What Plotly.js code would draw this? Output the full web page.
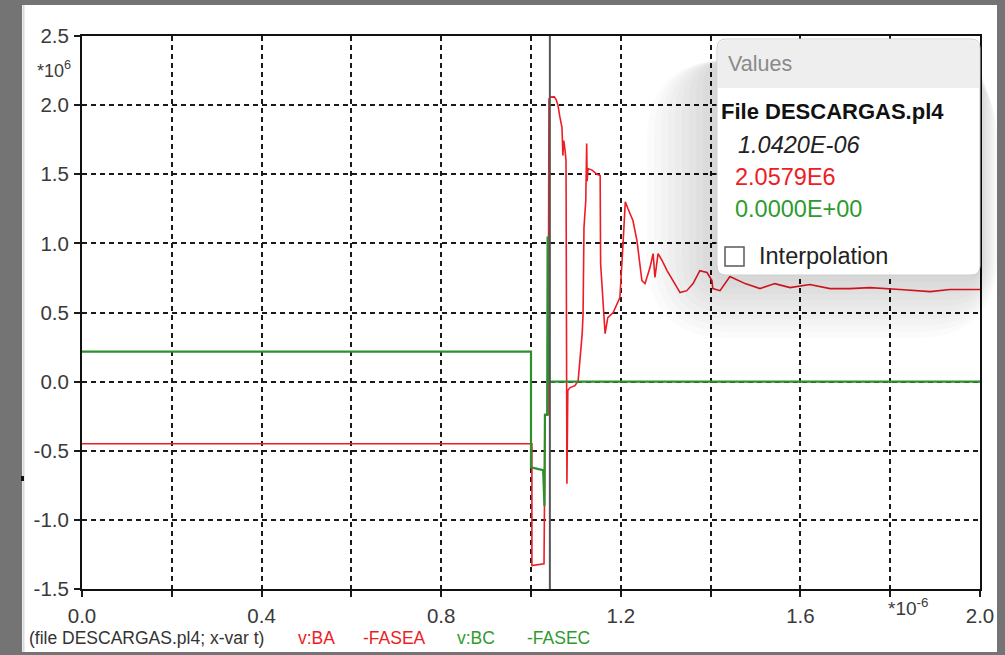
<!DOCTYPE html>
<html>
<head>
<meta charset="utf-8">
<script src="https://cdn.plot.ly/plotly-3.0.1.min.js"></script>
<style>
  html, body { margin: 0; padding: 0; background: #747474; }
  #plot { width: 1005px; height: 655px; }
</style>
</head>
<body>
<div id="plot"></div>
<script>
// Time axis in microseconds, voltages in MV (axis multipliers shown as *10^-6 / *10^6)
const t_ba = [0.000, 1.002, 1.002, 1.029, 1.030, 1.031, 1.038, 1.040, 1.042, 1.052, 1.056, 1.060,
  1.064, 1.069, 1.071, 1.073, 1.076, 1.078, 1.080, 1.081, 1.082, 1.087, 1.098, 1.105, 1.110,
  1.114, 1.116, 1.118, 1.122, 1.124, 1.125, 1.127, 1.136, 1.147, 1.154, 1.155, 1.165, 1.171,
  1.183, 1.198, 1.205, 1.210, 1.216, 1.227, 1.236, 1.247, 1.254, 1.265, 1.272, 1.276, 1.283,
  1.292, 1.303, 1.316, 1.332, 1.347, 1.361, 1.376, 1.392, 1.403, 1.405, 1.421, 1.443, 1.477,
  1.510, 1.543, 1.577, 1.621, 1.666, 1.710, 1.755, 1.822, 1.889, 1.933, 2.000];
const v_ba = [-0.449, -0.449, -1.331, -1.317, -0.897, -0.239, -0.239, 2.040, 2.058, 2.060, 2.040, 2.000,
  1.920, 1.838, 1.635, 1.744, 1.670, 1.600, -0.738, -0.355, -0.065, -0.043, -0.029, 0.007, 0.200,
  0.347, 0.492, 1.114, 1.310, 1.722, 1.450, 1.541, 1.530, 1.500, 1.491, 0.854, 0.347, 0.463,
  0.499, 0.608, 0.999, 1.300, 1.250, 1.165, 1.020, 0.731, 0.709, 0.825, 0.926, 0.753, 0.926,
  0.876, 0.803, 0.731, 0.644, 0.658, 0.709, 0.803, 0.789, 0.731, 0.673, 0.658, 0.760, 0.709,
  0.673, 0.709, 0.680, 0.702, 0.673, 0.673, 0.680, 0.666, 0.651, 0.666, 0.666];

const t_bc = [0.000, 1.000, 1.000, 1.027, 1.030, 1.031, 1.036, 1.037, 1.038, 2.000];
const v_bc = [0.217, 0.217, -0.620, -0.640, -0.900, -0.240, -0.240, 1.050, 0.000, 0.000];

const cursorTime = 1.042;
const readout = ['1.0420E-06', '2.0579E6', '0.0000E+00'];

const xTicks = [0.0, 0.4, 0.8, 1.2, 1.6, 2.0];
const xTickText = ['0.0', '0.4', '0.8', '1.2', '1.6', '2.0'];
const yTicks = [2.5, 2.0, 1.5, 1.0, 0.5, 0.0, -0.5, -1.0, -1.5];
const yTickText = ['2.5', '2.0', '1.5', '1.0', '0.5', '0.0', '-0.5', '-1.0', '-1.5'];

// pixel helpers for the frame (plot area spans x 82..980, y 36..589)
const W = 1005, H = 655, L = 82, R = 980, T = 36, B = 589;
const px = x => (x - L) / (R - L);
const py = y => (B - y) / (B - T);

function roundRect(x0, y0, x1, y1, r, topOnly) {
  const rx = r / (R - L), ry = r / (B - T);
  const a = px(x0), b = px(x1), top = py(y0), bot = py(y1);
  let p = `M${a + rx},${top} L${b - rx},${top} Q${b},${top} ${b},${top - ry} `;
  if (topOnly) {
    p += `L${b},${bot} L${a},${bot} `;
  } else {
    p += `L${b},${bot + ry} Q${b},${bot} ${b - rx},${bot} L${a + rx},${bot} Q${a},${bot} ${a},${bot + ry} `;
  }
  p += `L${a},${top - ry} Q${a},${top} ${a + rx},${top} Z`;
  return p;
}

const FONT = 'Liberation Sans, Arial, sans-serif';

const shapes = [];
// white panel inside the dark window border
shapes.push({type: 'rect', xref: 'paper', yref: 'paper', layer: 'below',
  x0: px(22), x1: px(997), y0: py(5), y1: py(652), fillcolor: '#ffffff', line: {width: 0}});
shapes.push({type: 'line', xref: 'paper', yref: 'paper', layer: 'below',
  x0: px(23.5), x1: px(23.5), y0: py(5), y1: py(652), line: {color: '#d9d9d9', width: 2}});
shapes.push({type: 'line', xref: 'paper', yref: 'paper', layer: 'above',
  x0: px(22.5), x1: px(22.5), y0: py(476), y1: py(481), line: {color: '#111111', width: 3}});

// cursor line
shapes.push({type: 'line', xref: 'x', yref: 'paper', layer: 'above',
  x0: cursorTime, x1: cursorTime, y0: 0, y1: 1, line: {color: '#555555', width: 2}});

// soft shadow around the values box, heavier below and to the left
for (let k = 10; k >= 1; k--) {
  const e = k * 7;
  shapes.push({type: 'path', xref: 'paper', yref: 'paper', layer: 'above',
    path: roundRect(717 - e, 60, 980 + e * 0.25, 275 + e * 0.9, 12 + e),
    fillcolor: '#000000', opacity: 0.016, line: {width: 0}});
}
// values box
shapes.push({type: 'path', xref: 'paper', yref: 'paper', layer: 'above',
  path: roundRect(717, 39, 980, 275, 9), fillcolor: '#ffffff',
  line: {color: '#cfcfcf', width: 1}});
shapes.push({type: 'path', xref: 'paper', yref: 'paper', layer: 'above',
  path: roundRect(718, 40, 979, 88, 8, true), fillcolor: '#eeeeee',
  line: {width: 0}});
// checkbox
shapes.push({type: 'rect', xref: 'paper', yref: 'paper', layer: 'above',
  x0: px(725), x1: px(744), y0: py(266), y1: py(247), fillcolor: '#ffffff',
  line: {color: '#5a5a5a', width: 1.5}});

function note(text, x, y, size, color, anchor) {
  return {xref: 'paper', yref: 'paper', x: px(x), y: py(y), text: text,
    showarrow: false, xanchor: anchor || 'left', yanchor: 'middle',
    font: {family: FONT, size: size, color: color}};
}

const annotations = [
  note('*10<sup>6</sup>', 35, 69, 18, '#3a3a3a'),
  note('*10<sup>-6</sup>', 886, 607, 19, '#3a3a3a'),
  note('(file DESCARGAS.pl4; x-var t)', 27, 638, 17.5, '#333333'),
  note('v:BA', 296, 638, 17.5, '#ee1c25'),
  note('-FASEA', 361, 638, 17.5, '#ee1c25'),
  note('v:BC', 455, 638, 17.5, '#2f9a2f'),
  note('-FASEC', 525, 638, 17.5, '#2f9a2f'),
  note('Values', 726, 64, 21.5, '#8a8a8a'),
  note('<b>File DESCARGAS.pl4</b>', 719, 111, 22, '#111111'),
  note('<i>' + readout[0] + '</i>', 736, 145, 23.5, '#222222'),
  note(readout[1], 733, 177, 23.5, '#ee1c25'),
  note(readout[2], 733, 209, 23.5, '#2f9a2f'),
  note('Interpolation', 757, 256, 23.5, '#222222')
];

const traces = [
  {x: t_ba, y: v_ba, mode: 'lines', name: 'v:BA -FASEA',
   line: {color: '#ee1c25', width: 1.6}, hoverinfo: 'skip'},
  {x: t_bc, y: v_bc, mode: 'lines', name: 'v:BC -FASEC',
   line: {color: '#2f8f2f', width: 2.2}, hoverinfo: 'skip'}
];

const gridStyle = {gridcolor: '#1a1a1a', gridwidth: 2, griddash: '5px,4px'};
const axisCommon = Object.assign({
  showline: true, mirror: true, linecolor: '#111111', linewidth: 2,
  showgrid: true, zeroline: false, ticks: 'outside', ticklen: 6, tickwidth: 2,
  tickcolor: '#1a1a1a', tickmode: 'array', fixedrange: true,
  tickfont: {family: FONT, size: 20.5, color: '#3a3a3a'}
}, gridStyle);

const layout = {
  width: W, height: H,
  margin: {l: L, r: W - R, t: T, b: H - B, pad: 0},
  paper_bgcolor: '#747474', plot_bgcolor: '#ffffff',
  showlegend: false,
  xaxis: Object.assign({}, axisCommon, {range: [0, 2], tickvals: xTicks, ticktext: xTickText,
    ticklabelstandoff: 1,
    minor: Object.assign({tickmode: 'linear', tick0: 0, dtick: 0.2, showgrid: true,
      ticks: 'outside', ticklen: 6, tickwidth: 2, tickcolor: '#1a1a1a'}, gridStyle)}),
  yaxis: Object.assign({}, axisCommon, {range: [-1.5, 2.5], tickvals: yTicks, ticktext: yTickText,
    ticklabelstandoff: 1}),
  shapes: shapes,
  annotations: annotations
};

Plotly.newPlot('plot', traces, layout, {staticPlot: true, displayModeBar: false});
</script>
</body>
</html>
